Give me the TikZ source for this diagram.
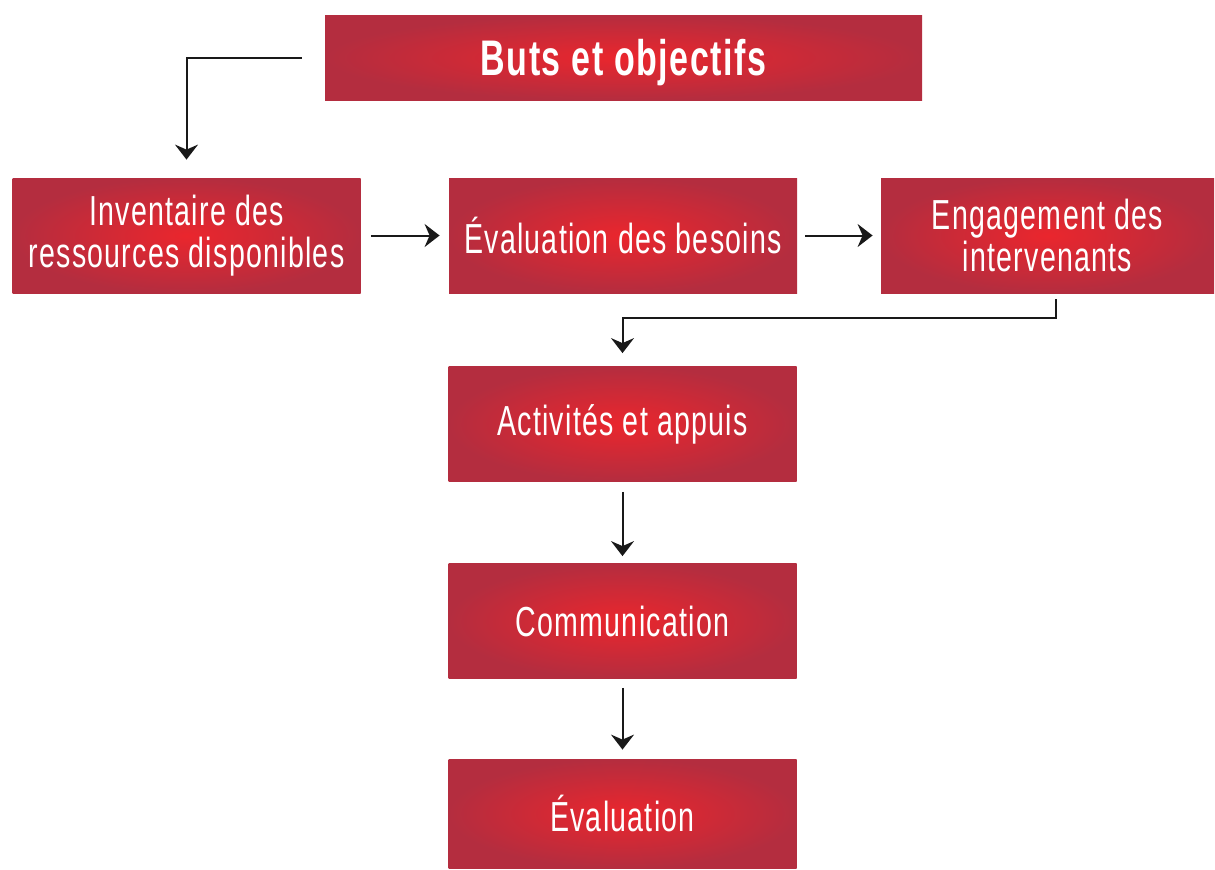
\documentclass[tikz,border=0pt]{standalone}
\usepackage{fontspec}
\setmainfont{Liberation Sans}[FakeStretch=0.68, LetterSpace=3]
\usepackage{xcolor}
\usepackage{tikz}
\usetikzlibrary{positioning,calc,arrows.meta}

\definecolor{rougecentre}{HTML}{EA262D}
\definecolor{rougebord}{HTML}{B42D3F}

\begin{document}
\begin{tikzpicture}[x=0.5pt,y=-0.5pt]

\tikzstyle{etape}=[rectangle, inner sep=0pt, inner color=rougecentre, outer color=rougebord, text=white, align=center, minimum width=174pt, minimum height=57.5pt, font=\fontsize{21}{21}\selectfont]
\tikzstyle{titre}=[etape, minimum width=298.5pt, minimum height=42.5pt, text depth=0pt, font=\fontsize{25}{25}\selectfont\bfseries]
\tikzstyle{suite}=[-{Stealth[length=7.5pt,width=11.5pt,inset=2.5pt]}, line width=1pt, black!90]

\useasboundingbox (0,0) rectangle (1215,869);

%les boîtes
\node[titre] (buts) at (623.5,57.5) {Buts et objectifs};
\node[etape] (inventaire) at (186.5,235.5) {Inventaire des\\ressources disponibles};
\node[etape] (besoins) at (623,235.5) {Évaluation des besoins};
\node[etape, minimum width=166.5pt] (engagement) at (1047.5,235.5) {Engagement des\\intervenants};
\node[etape] (activites) at (622.5,424) {Activités et appuis};
\node[etape] (communication) at (622.5,621) {Communication};
\node[etape, minimum height=54.5pt] (evaluation) at (622.5,813.5) {Évaluation};

%les flèches
\draw[suite, shorten <=11.5pt, shorten >=9pt] (buts.west) -| (inventaire.north);
\draw[suite, shorten <=5pt, shorten >=4.5pt] (inventaire) -- (besoins);
\draw[suite, shorten <=4pt, shorten >=4pt] (besoins) -- (engagement);
\draw[suite, shorten <=3pt, shorten >=6.5pt] ([xshift=4pt]engagement.south) -- ++(0,25) -| (activites.north);
\draw[suite, shorten <=5pt, shorten >=3.5pt] (activites) -- (communication);
\draw[suite, shorten <=4.5pt, shorten >=4.5pt] (communication) -- (evaluation);
\end{tikzpicture}
\end{document}
